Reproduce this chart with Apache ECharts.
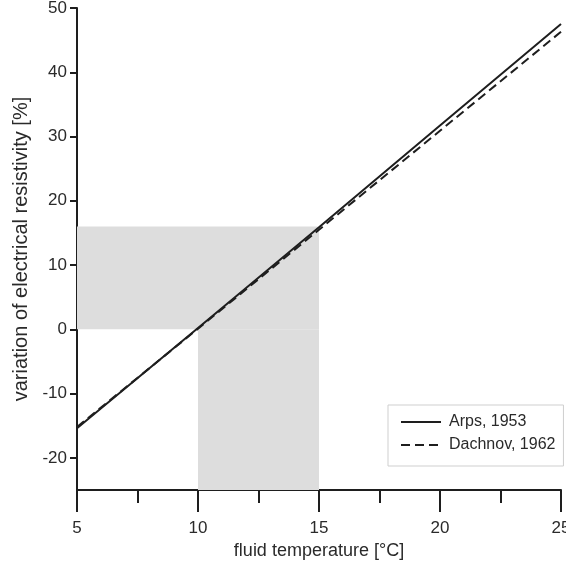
<!DOCTYPE html>
<html>
<head>
<meta charset="utf-8">
<script src="https://cdn.jsdelivr.net/npm/echarts@6/dist/echarts.min.js"></script>
<style>
  html, body { margin: 0; padding: 0; background: #fff; }
  #chart { width: 566px; height: 565px; }
</style>
</head>
<body>
<div id="chart"></div>
<script>
// Temperatures (°C) at which the curves are sampled
const temperatures = [5, 10, 15, 20, 25];
// Resistivity variation (%) relative to 10 °C
const arps1953 = [-15.4, 0.2, 15.9, 31.7, 47.5];
const dachnov1962 = [-15.2, 0.1, 15.5, 30.9, 46.3];
// Highlighted temperature window and its variation band
const shadeTempStart = 5;
const shadeTempRef = 10;
const shadeTempEnd = 15;
const shadeTop = 16;
const yTicks = [-20, -10, 0, 10, 20, 30, 40, 50];
const xTicks = [5, 10, 15, 20, 25];

const font = 'Liberation Sans, Arial, sans-serif';
const ink = '#1e1e1e';
const textInk = '#2a2a2a';

const chart = echarts.init(document.getElementById('chart'));
chart.setOption({
  animation: false,
  backgroundColor: '#fff',
  grid: { left: 77, right: 5, top: 8, bottom: 75, containLabel: false, outerBoundsMode: 'none' },
  legend: {
    orient: 'vertical',
    left: 388,
    top: 405,
    padding: [9, 8, 13, 12],
    itemWidth: 40,
    itemHeight: 14,
    itemGap: 7,
    borderColor: '#cfcfcf',
    borderWidth: 1,
    itemStyle: { opacity: 0 },
    textStyle: { fontFamily: font, fontSize: 16, color: textInk, padding: [0, 0, 0, 3] },
    data: ['Arps, 1953', 'Dachnov, 1962']
  },
  xAxis: {
    type: 'value',
    min: 5,
    max: 25,
    interval: 5,
    name: 'fluid temperature [°C]',
    nameLocation: 'middle',
    nameGap: 47,
    nameTextStyle: { fontFamily: font, fontSize: 18, color: textInk },
    axisLine: { onZero: false, lineStyle: { color: ink, width: 2 } },
    axisTick: { length: 22, lineStyle: { color: ink, width: 2 } },
    minorTick: { show: true, splitNumber: 2, length: 13, lineStyle: { color: ink, width: 2 } },
    axisLabel: {
      margin: 30,
      fontFamily: font, fontSize: 17, color: textInk,
      customValues: xTicks
    },
    splitLine: { show: false }
  },
  yAxis: {
    type: 'value',
    min: -25,
    max: 50,
    name: 'variation of electrical resistivity [%]',
    nameLocation: 'middle',
    nameGap: 46,
    nameTextStyle: { fontFamily: font, fontSize: 20, color: textInk },
    axisLine: { onZero: false, lineStyle: { color: ink, width: 2 } },
    axisTick: { length: 7, lineStyle: { color: ink, width: 2 }, customValues: yTicks },
    axisLabel: { margin: 10, fontFamily: font, fontSize: 17, color: textInk, customValues: yTicks },
    splitLine: { show: false }
  },
  series: [
    {
      name: 'shade',
      type: 'line',
      data: [],
      z: 1,
      silent: true,
      markArea: {
        silent: true,
        itemStyle: { color: '#dddddd' },
        data: [
          [{ xAxis: shadeTempStart, yAxis: 0 }, { xAxis: shadeTempEnd, yAxis: shadeTop }],
          [{ xAxis: shadeTempRef, yAxis: -25 }, { xAxis: shadeTempEnd, yAxis: 0 }]
        ]
      }
    },
    {
      name: 'Arps, 1953',
      type: 'line',
      z: 3,
      symbol: 'none',
      data: temperatures.map((t, i) => [t, arps1953[i]]),
      lineStyle: { color: ink, width: 2 },
      itemStyle: { color: ink }
    },
    {
      name: 'Dachnov, 1962',
      type: 'line',
      z: 3,
      symbol: 'none',
      data: temperatures.map((t, i) => [t, dachnov1962[i]]),
      lineStyle: { color: ink, width: 2, type: [9, 5] },
      itemStyle: { color: ink }
    }
  ]
});
</script>
</body>
</html>
